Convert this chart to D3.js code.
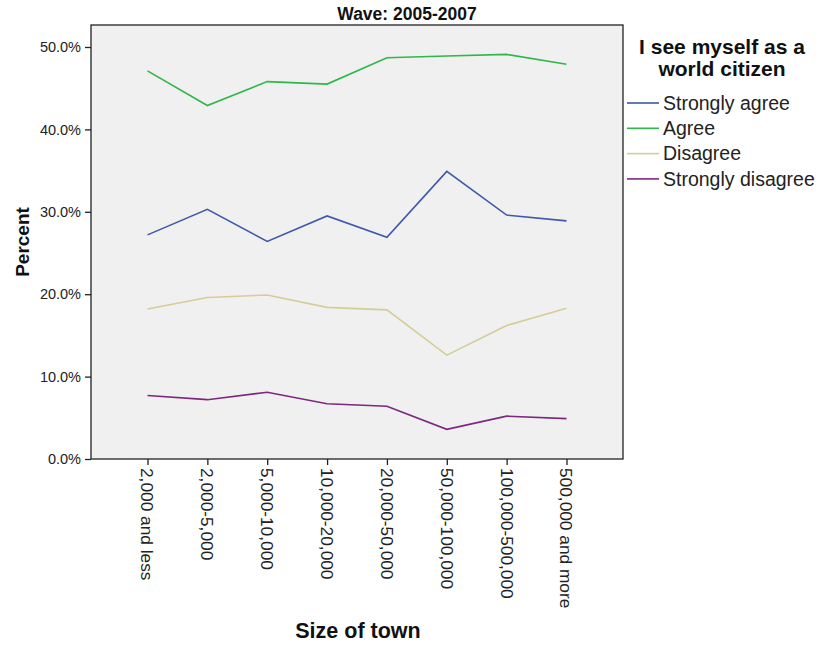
<!DOCTYPE html>
<html><head><meta charset="utf-8">
<script src="https://cdn.jsdelivr.net/npm/d3@7"></script>
<style>body{margin:0;background:#fff}svg{display:block}text{font-family:Arial,"Liberation Sans",sans-serif}</style>
</head><body>
<svg id="c" width="823" height="646"></svg>
<script>
const categories = ["2,000 and less","2,000-5,000","5,000-10,000","10,000-20,000","20,000-50,000","50,000-100,000","100,000-500,000","500,000 and more"];
const seriesNames = ["Strongly agree","Agree","Disagree","Strongly disagree"];
const stronglyAgree = [27.2,30.3,26.4,29.5,26.9,34.9,29.6,28.9];
const agree = [47.1,42.9,45.8,45.5,48.7,48.9,49.1,47.9];
const disagree = [18.2,19.6,19.9,18.4,18.1,12.6,16.2,18.3];
const stronglyDisagree = [7.7,7.2,8.1,6.7,6.4,3.6,5.2,4.9];
const yTicks = [0,10,20,30,40,50];
const colors = ["#3E58AC","#2EB848","#D3CE97","#7C287D"];
const seriesValues = [stronglyAgree, agree, disagree, stronglyDisagree];

const svg = d3.select("#c");
const L=91, R=623, T=25, B=459;
const x = d3.scalePoint().domain(categories).range([L,R]).padding(0.944);
const y = d3.scaleLinear().domain([0,50]).range([B,47]);

svg.append("rect").attr("x",L).attr("y",T).attr("width",R-L).attr("height",B-T).attr("fill","#f0f0f0");

const line = d3.line().x((d,i)=>x(categories[i])).y(d=>y(d));
seriesValues.forEach((vals,k)=>{
  svg.append("path").datum(vals).attr("d",line).attr("fill","none").attr("stroke",colors[k]).attr("stroke-width",1.6);
});

svg.append("rect").attr("x",L).attr("y",T).attr("width",R-L).attr("height",B-T).attr("fill","none").attr("stroke","#222").attr("stroke-width",1.3);

const ya = svg.append("g").attr("transform",`translate(${L},0)`).call(d3.axisLeft(y).tickValues(yTicks).tickSize(6).tickSizeOuter(0).tickFormat(d=>d.toFixed(1)+"%"));
ya.select(".domain").remove();
ya.selectAll("line").attr("stroke","#222").attr("stroke-width",1.3);
ya.selectAll("text").attr("font-size",14.5).attr("fill","#222").attr("x",-10);

const xa = svg.append("g").attr("transform",`translate(0,${B})`).call(d3.axisBottom(x).tickSize(6).tickSizeOuter(0));
xa.select(".domain").remove();
xa.selectAll("line").attr("stroke","#222").attr("stroke-width",1.3);
xa.selectAll("text").attr("font-size",17.3).attr("fill","#222")
  .attr("transform","rotate(90)").attr("x",9).attr("y",0).attr("dy","0.38em").attr("text-anchor","start");

svg.append("text").attr("x",407).attr("y",20).attr("text-anchor","middle").attr("font-size",17.5).attr("font-weight","bold").attr("fill","#111").text("Wave: 2005-2007");
svg.append("text").attr("transform","translate(29,242) rotate(-90)").attr("text-anchor","middle").attr("font-size",19).attr("font-weight","bold").attr("fill","#111").text("Percent");
svg.append("text").attr("x",358).attr("y",638).attr("text-anchor","middle").attr("font-size",21.5).attr("font-weight","bold").attr("fill","#111").text("Size of town");

svg.append("text").attr("x",722).attr("y",54).attr("text-anchor","middle").attr("font-size",21).attr("font-weight","bold").attr("fill","#111").text("I see myself as a");
svg.append("text").attr("x",722).attr("y",76).attr("text-anchor","middle").attr("font-size",21).attr("font-weight","bold").attr("fill","#111").text("world citizen");

const lg = svg.append("g");
seriesNames.forEach((n,i)=>{
  const yy = 103 + i*25.3;
  lg.append("line").attr("x1",627).attr("x2",659).attr("y1",yy).attr("y2",yy).attr("stroke",colors[i]).attr("stroke-width",1.6);
  lg.append("text").attr("x",663).attr("y",yy).attr("dy","0.35em").attr("font-size",19.5).attr("fill","#222").text(n);
});
</script>
</body></html>
